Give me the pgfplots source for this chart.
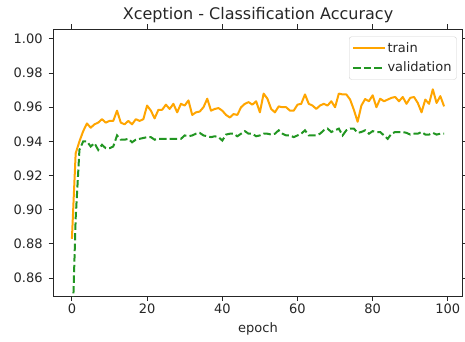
\documentclass[border=0pt]{standalone}
\usepackage{fontspec}
\setmainfont{DejaVu Sans}
\usepackage{pgfplots}
\pgfplotsset{compat=1.18}
\definecolor{mplorange}{RGB}{255,165,0}
\definecolor{mplgreen}{RGB}{34,150,34}
\begin{document}
\begin{tikzpicture}
\useasboundingbox (-53.3pt,-45pt) rectangle (411.7pt,296pt);
\begin{axis}[
  scale only axis,
  width=409.4pt, height=267pt,
  at={(0,0)}, anchor=south west,
  xmin=-4.95, xmax=103.95,
  ymin=0.8495, ymax=1.0058,
  xtick={0,20,40,60,80,100},
  ytick={0.86,0.88,0.90,0.92,0.94,0.96,0.98,1.00},
  yticklabel style={xshift=-2.5pt, /pgf/number format/.cd,fixed,fixed zerofill,precision=2},
  /pgf/number format/assume math mode=true,
  tick align=outside,
  major tick length=4.7pt,
  tick style={black!85, line width=1pt},
  axis line style={black!85, line width=1pt},
  ticklabel style={font=\fontsize{13}{15}\selectfont, text=black!85},
  xlabel={epoch},
  xlabel style={font=\fontsize{13}{15}\selectfont, text=black!85, yshift=-2pt},
  title={Xception - Classification Accuracy},
  title style={font=\fontsize{16}{19}\selectfont, text=black!85, yshift=-3pt},
  legend style={at={(1,1)}, anchor=north east, xshift=-6pt, yshift=-7.5pt,
    draw=black!18, rounded corners=2.5pt, fill=white, font=\fontsize{13}{15}\selectfont,
    text=black!85, inner xsep=3pt, inner ysep=4pt, row sep=4pt},
  legend cell align=left,
  legend image code/.code={\draw[#1] (0cm,0cm) -- (0.94cm,0cm); \path (0cm,0cm) -- (1.1cm,0cm);},
]
\addplot[mplorange, line width=2pt, line join=round] coordinates {
(0,0.883)(1,0.933)(2,0.940)(3,0.946)(4,0.9505)(5,0.948)(6,0.950)(7,0.951)(8,0.953)(9,0.951)
(10,0.952)(11,0.952)(12,0.958)(13,0.951)(14,0.950)(15,0.952)(16,0.950)(17,0.953)(18,0.952)(19,0.953)
(20,0.961)(21,0.958)(22,0.9535)(23,0.9585)(24,0.9585)(25,0.9615)(26,0.959)(27,0.962)(28,0.957)(29,0.962)
(30,0.961)(31,0.964)(32,0.9555)(33,0.957)(34,0.9575)(35,0.960)(36,0.965)(37,0.958)(38,0.959)(39,0.9595)
(40,0.958)(41,0.9555)(42,0.954)(43,0.956)(44,0.9555)(45,0.960)(46,0.962)(47,0.963)(48,0.9615)(49,0.9635)
(50,0.957)(51,0.968)(52,0.965)(53,0.959)(54,0.957)(55,0.9605)(56,0.960)(57,0.960)(58,0.958)(59,0.958)
(60,0.9615)(61,0.962)(62,0.9675)(63,0.962)(64,0.961)(65,0.959)(66,0.961)(67,0.962)(68,0.961)(69,0.9635)
(70,0.960)(71,0.968)(72,0.9675)(73,0.9675)(74,0.9645)(75,0.9585)(76,0.9515)(77,0.961)(78,0.9648)(79,0.9635)
(80,0.967)(81,0.960)(82,0.965)(83,0.9635)(84,0.9645)(85,0.9655)(86,0.966)(87,0.9635)(88,0.966)(89,0.962)
(90,0.9655)(91,0.966)(92,0.9625)(93,0.957)(94,0.9645)(95,0.962)(96,0.9705)(97,0.9625)(98,0.9665)(99,0.9605)
};
\addlegendentry{train}
\addplot[mplgreen, line width=2pt, dash pattern=on 7.4pt off 3.2pt] coordinates {
(0,0.82)(1,0.895)(2,0.935)(3,0.940)(4,0.940)(5,0.937)(6,0.939)(7,0.935)(8,0.938)(9,0.936)
(10,0.936)(11,0.937)(12,0.9435)(13,0.941)(14,0.941)(15,0.9415)(16,0.9395)(17,0.941)(18,0.9415)(19,0.942)
(20,0.9425)(21,0.9425)(22,0.941)(23,0.9415)(24,0.9415)(25,0.9415)(26,0.9415)(27,0.9415)(28,0.9415)(29,0.9415)
(30,0.9435)(31,0.943)(32,0.9435)(33,0.9445)(34,0.945)(35,0.9435)(36,0.943)(37,0.9425)(38,0.943)(39,0.9425)
(40,0.9405)(41,0.944)(42,0.9445)(43,0.9445)(44,0.943)(45,0.9445)(46,0.946)(47,0.9445)(48,0.9445)(49,0.943)
(50,0.9435)(51,0.9445)(52,0.9445)(53,0.944)(54,0.9445)(55,0.9465)(56,0.9445)(57,0.9435)(58,0.9435)(59,0.9425)
(60,0.9435)(61,0.9445)(62,0.9465)(63,0.9435)(64,0.9435)(65,0.9435)(66,0.9445)(67,0.9465)(68,0.9475)(69,0.9455)
(70,0.9465)(71,0.9475)(72,0.9435)(73,0.9465)(74,0.9475)(75,0.9475)(76,0.945)(77,0.9455)(78,0.9465)(79,0.9445)
(80,0.946)(81,0.9455)(82,0.9455)(83,0.9435)(84,0.9415)(85,0.9445)(86,0.9455)(87,0.9455)(88,0.9455)(89,0.945)
(90,0.944)(91,0.9445)(92,0.9445)(93,0.9455)(94,0.944)(95,0.944)(96,0.945)(97,0.944)(98,0.9445)(99,0.9445)
};
\addlegendentry{validation}
\end{axis}
\end{tikzpicture}
\end{document}
